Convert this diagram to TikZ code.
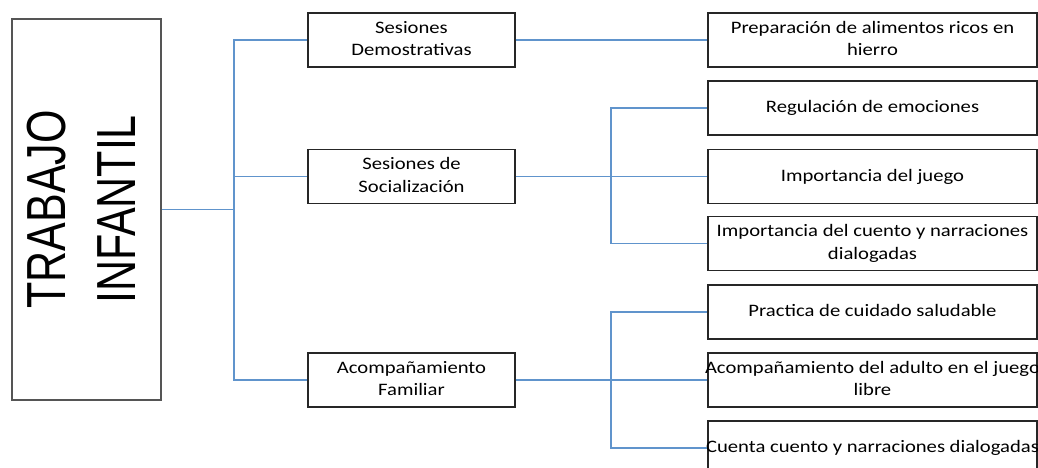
\documentclass[tikz,border=0pt]{standalone}
\usepackage{fontspec}
\setmainfont{Carlito}
\newfontfamily\rootfont{Liberation Sans}
\usepackage{graphicx}
\definecolor{linkblue}{RGB}{96,148,204}
\definecolor{rootgray}{RGB}{85,85,85}
\newcommand{\hs}[1]{\makebox[0pt]{\scalebox{1.18}[1]{\fontsize{17.5}{22.5}\selectfont\begin{tabular}{@{}c@{}}#1\end{tabular}}}}
\newcommand{\rt}[1]{\rotatebox{90}{\scalebox{1}[1.28]{\rootfont\fontsize{43}{55}\selectfont\begin{tabular}{@{}c@{}}#1\end{tabular}}}}
\tikzset{
  rootbox/.style={draw=rootgray, line width=1.2pt, minimum width=149pt, minimum height=381pt, inner sep=0pt},
  lonebox/.style={draw=black!85, line width=1.2pt, minimum width=207pt, minimum height=54pt, inner sep=0pt},
  ltwobox/.style={draw=black!85, line width=1.2pt, minimum width=329pt, minimum height=54pt, inner sep=0pt},
  link/.style={draw=linkblue, line width=1.2pt}
}
\begin{document}
\begin{tikzpicture}[x=1pt,y=-1pt]
\useasboundingbox (0,0) rectangle (1038,468);
\clip (0,0) rectangle (1038,468);
\node[rootbox] (root) at (86.5,209.5) {\rt{TRABAJO\\INFANTIL}};
\node[lonebox] (s1) at (411.5,40) {\hs{Sesiones\\Demostrativas}};
\node[lonebox] (s2) at (411.5,176.5) {\hs{Sesiones de\\Socialización}};
\node[lonebox] (s3) at (411.5,380) {\hs{Acompañamiento\\Familiar}};
\node[ltwobox] (a) at (872.5,40) {\hs{Preparación de alimentos ricos en\\hierro}};
\node[ltwobox] (b) at (872.5,108) {\hs{Regulación de emociones}};
\node[ltwobox] (c) at (872.5,176.5) {\hs{Importancia del juego}};
\node[ltwobox] (d) at (872.5,243.5) {\hs{Importancia del cuento y narraciones\\dialogadas}};
\node[ltwobox] (e) at (872.5,312) {\hs{Practica de cuidado saludable}};
\node[ltwobox] (f) at (872.5,380) {\hs{Acompañamiento del adulto en el juego\\libre}};
\node[ltwobox] (g) at (872.5,448) {\hs{Cuenta cuento y narraciones dialogadas}};
\coordinate (t0) at (234,209.5);
\coordinate (t2) at (611,176.5);
\coordinate (t3) at (611,380);
\draw[link, line width=1.6pt] (root.east) -- (t0);
\draw[link] (t0) |- (s1.west);
\draw[link] (t0) |- (s2.west);
\draw[link] (t0) |- (s3.west);
\draw[link] (s1.east) -- (a.west);
\draw[link] (s2.east) -- (t2);
\draw[link] (t2) |- (b.west);
\draw[link] (t2) |- (c.west);
\draw[link] (t2) |- (d.west);
\draw[link] (s3.east) -- (t3);
\draw[link] (t3) |- (e.west);
\draw[link] (t3) |- (f.west);
\draw[link] (t3) |- (g.west);
\end{tikzpicture}
\end{document}
